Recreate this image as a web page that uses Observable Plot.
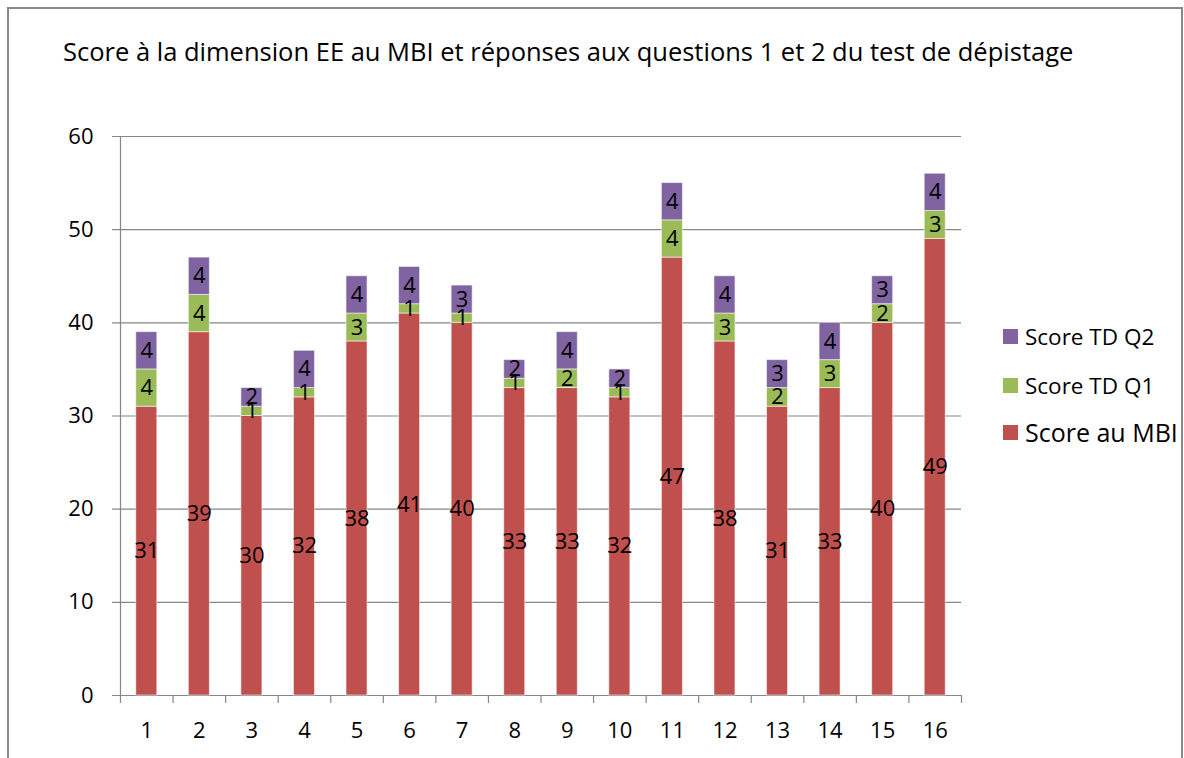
<!DOCTYPE html>
<html>
<head>
<meta charset="utf-8">
<script src="https://cdn.jsdelivr.net/npm/d3@7"></script>
<script src="https://cdn.jsdelivr.net/npm/@observablehq/plot@0.6"></script>
<style>
  html, body { margin: 0; padding: 0; background: #fff; overflow: hidden; }
  body { width: 1184px; height: 758px; position: relative; font-family: "Open Sans", sans-serif; }
  #frame { position: absolute; left: 7px; top: 7px; width: 1172px; height: 800px; border: 2px solid #888; box-sizing: content-box; }
  #chart { position: absolute; left: 0; top: 0; }
  #title { position: absolute; left: 63px; top: 39px; font-size: 25.5px; line-height: 25.5px; white-space: nowrap; color: #000; }
  #legend { position: absolute; left: 1003px; top: 0; }
  .item { position: absolute; left: 0; display: flex; align-items: center; white-space: nowrap; color: #000; }
  .sw { width: 15px; height: 15px; margin-right: 7px; flex: none; }
</style>
</head>
<body>
<div id="frame"></div>
<div id="chart"></div>
<div id="title"></div>
<div id="legend"></div>
<script>
const titleText = "Score à la dimension EE au MBI et réponses aux questions 1 et 2 du test de dépistage";
const categories = ["1","2","3","4","5","6","7","8","9","10","11","12","13","14","15","16"];
const seriesNames = ["Score au MBI", "Score TD Q1", "Score TD Q2"];
const seriesColors = ["#C0504D", "#9BBB59", "#8064A2"];
const scoreMBI = [31, 39, 30, 32, 38, 41, 40, 33, 33, 32, 47, 38, 31, 33, 40, 49];
const scoreQ1  = [4, 4, 1, 1, 3, 1, 1, 1, 2, 1, 4, 3, 2, 3, 2, 3];
const scoreQ2  = [4, 4, 2, 4, 4, 4, 3, 2, 4, 2, 4, 4, 3, 4, 3, 4];
const yTicks = [0, 10, 20, 30, 40, 50, 60];

const seriesValues = [scoreMBI, scoreQ1, scoreQ2];
const rows = [];
seriesNames.forEach((s, si) => {
  categories.forEach((c, ci) => rows.push({cat: c, series: s, value: seriesValues[si][ci]}));
});

const W = 1184, H = 758;
const mL = 120, mR = 223, mT = 136, mB = 63;
const step = (W - mL - mR) / categories.length;

const plot = Plot.plot({
  width: W,
  height: H,
  marginLeft: mL,
  marginRight: mR,
  marginTop: mT,
  marginBottom: mB,
  style: {fontFamily: "Open Sans", fontSize: "22px", color: "#000", background: "transparent", overflow: "visible"},
  x: {domain: categories, paddingInner: 0.6, paddingOuter: 0.3, round: false, label: null},
  y: {domain: [0, 60], label: null},
  color: {domain: seriesNames, range: seriesColors},
  marks: [
    Plot.ruleY(yTicks, {y: d => d, stroke: "#868686", strokeWidth: 1.2, insetLeft: -8}),
    Plot.ruleX(categories, {x: d => d, y1: 0, y2: 0, dx: step / 2, insetBottom: -8, stroke: "#868686", strokeWidth: 1.2}),
    Plot.ruleX([categories[0]], {x: d => d, y1: 0, y2: 0, dx: -step / 2, insetBottom: -8, stroke: "#868686", strokeWidth: 1.2}),
    Plot.ruleX([categories[0]], {x: d => d, y1: 0, y2: 60, dx: -step / 2, stroke: "#868686", strokeWidth: 1.2}),
    Plot.barY(rows, Plot.stackY({x: "cat", y: "value", fill: "series", stroke: "#fff", strokeOpacity: 0.55, strokeWidth: 1})),
    Plot.text(rows, Plot.stackY({x: "cat", y: "value", text: "value", fill: "#000", fontSize: 22})),
    Plot.axisY(yTicks, {tickSize: 0, tickPadding: 27, fontSize: 22}),
    Plot.axisX({tickSize: 0, tickPadding: 27, fontSize: 22})
  ]
});
document.getElementById("chart").appendChild(plot);

document.getElementById("title").textContent = titleText;

const legendItems = [
  {name: seriesNames[2], color: seriesColors[2], cy: 336, size: 22.5},
  {name: seriesNames[1], color: seriesColors[1], cy: 385, size: 22.5},
  {name: seriesNames[0], color: seriesColors[0], cy: 432, size: 25}
];
const legend = document.getElementById("legend");
legendItems.forEach(it => {
  const d = document.createElement("div");
  d.className = "item";
  d.style.top = (it.cy - 15) + "px";
  d.style.height = "30px";
  d.style.fontSize = it.size + "px";
  const sw = document.createElement("span");
  sw.className = "sw";
  sw.style.background = it.color;
  const t = document.createElement("span");
  t.textContent = it.name;
  d.appendChild(sw);
  d.appendChild(t);
  legend.appendChild(d);
});
</script>
</body>
</html>
